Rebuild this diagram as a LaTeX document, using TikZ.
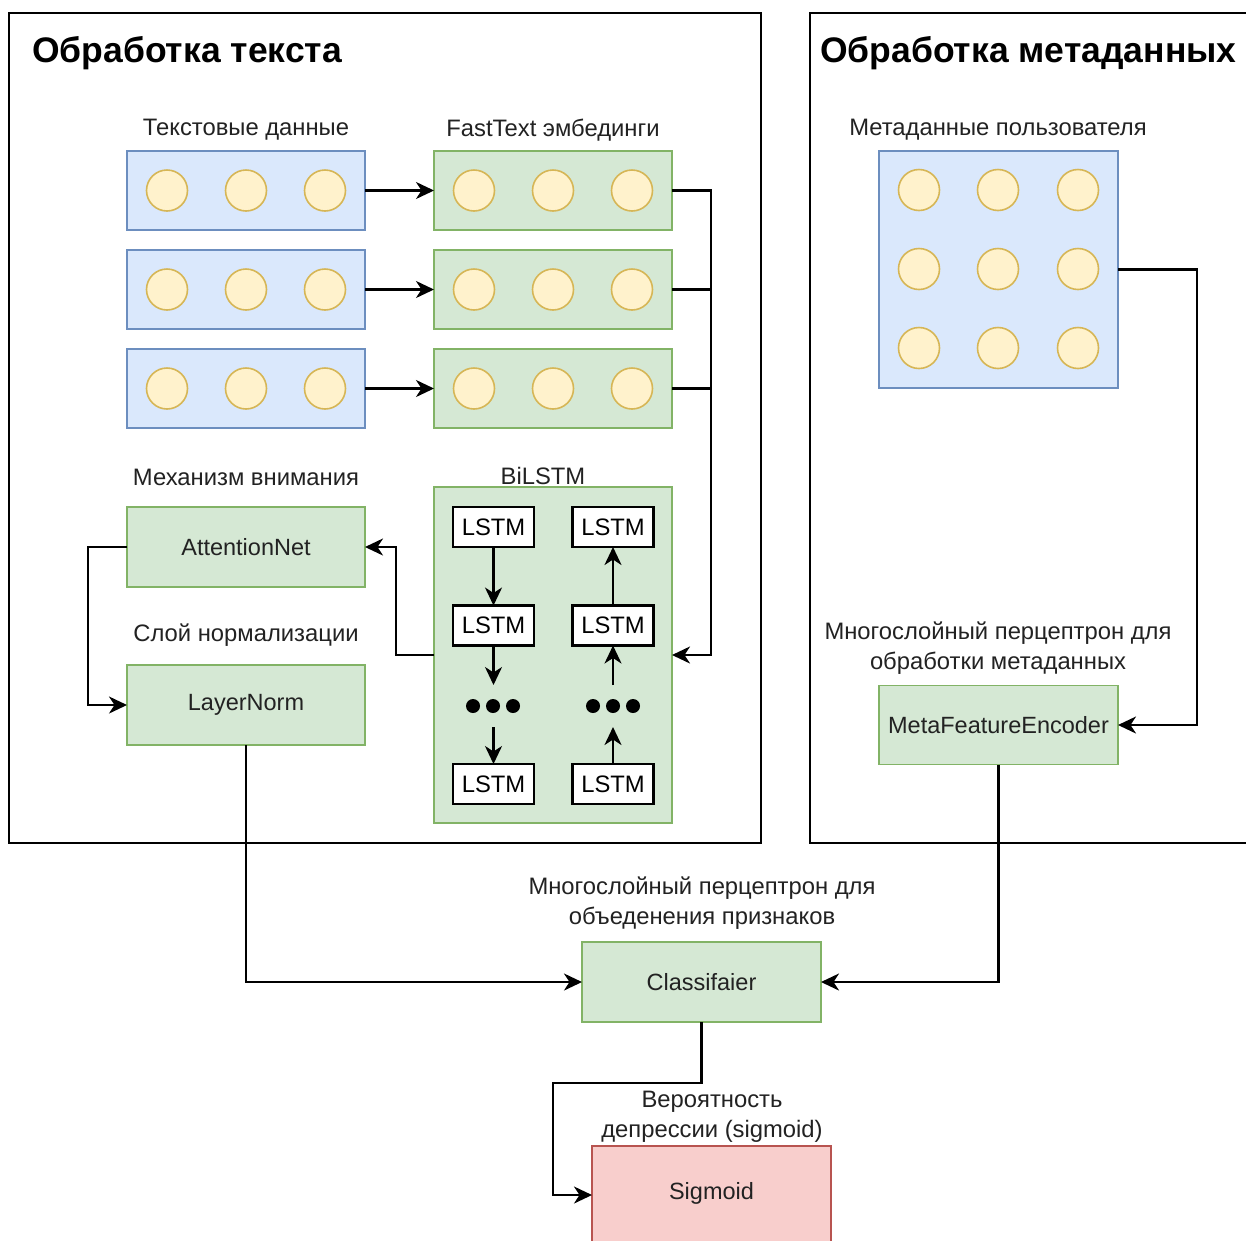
\documentclass[tikz,border=0pt]{standalone}
\usepackage{fontspec}
\setmainfont{Liberation Sans}
\usetikzlibrary{arrows.meta}
\definecolor{bfill}{HTML}{DAE8FC}
\definecolor{bline}{HTML}{6C8EBF}
\definecolor{gfill}{HTML}{D5E8D4}
\definecolor{gline}{HTML}{82B366}
\definecolor{cfill}{HTML}{FFF2CC}
\definecolor{cline}{HTML}{D6B656}
\definecolor{rfill}{HTML}{F8CECC}
\definecolor{rline}{HTML}{B85450}
\definecolor{txt}{HTML}{222222}
\begin{document}
\begin{tikzpicture}[x=1pt,y=-1pt,
  lbl/.style={text=txt,font=\fontsize{23.8}{30}\selectfont,align=center,inner sep=0pt},
  ttl/.style={text=black,font=\bfseries\fontsize{35.5}{40}\selectfont,inner sep=0pt,anchor=west},
  container/.style={draw=black,line width=1.8pt},
  bluebox/.style={draw=bline,fill=bfill,line width=1.6pt,inner sep=0pt,outer sep=0pt},
  greenbox/.style={draw=gline,fill=gfill,line width=1.6pt,inner sep=0pt,outer sep=0pt,text=txt,font=\fontsize{23.5}{28}\selectfont},
  redbox/.style={draw=rline,fill=rfill,line width=1.6pt,inner sep=0pt,outer sep=0pt,text=txt,font=\fontsize{23.5}{28}\selectfont},
  circ/.style={circle,draw=cline,fill=cfill,line width=1.6pt,minimum size=41pt,inner sep=0pt},
  lstm/.style={draw=black,fill=white,line width=2.2pt,minimum width=81pt,minimum height=40pt,inner sep=0pt,outer sep=0pt,text=black,font=\fontsize{23.8}{28}\selectfont},
  dot/.style={circle,fill=black,minimum size=14pt,inner sep=0pt},
  dotsbox/.style={minimum width=54pt,minimum height=42pt,inner sep=0pt,outer sep=0pt},
  arr/.style={draw=black,line width=2.2pt,-{Stealth[length=18pt,width=17pt,inset=5.5pt]}},
  wire/.style={draw=black,line width=2.2pt}
]
\useasboundingbox (0,0) rectangle (1246,1240);
\clip (0,0) rectangle (1246,1240);
\fill[white] (0,0) rectangle (1246,1240);

% containers
\draw[container] (9,13) rectangle (761,843);
\draw[container] (810,13) rectangle (1270,843);
\node[ttl] (ttext) at (32,53) {Обработка текста};
\node[ttl] (tmeta) at (820,53) {Обработка метаданных};

% labels
\node[lbl] (ltext) at (246,130) {Текстовые данные};
\node[lbl] (lfast) at (553,130) {FastText эмбединги};
\node[lbl] (lmeta) at (998,130) {Метаданные пользователя};
\node[lbl] (lattn) at (246,477) {Механизм внимания};
\node[lbl] (lbil) at (543,476) {BiLSTM};
\node[lbl] (lnorm) at (246,635) {Слой нормализации};
\node[lbl] (lmfe) at (998,648) {Многослойный перцептрон для\\обработки метаданных};
\node[lbl] (lcls) at (702,903) {Многослойный перцептрон для\\объеденения признаков};
\node[lbl] (lsig) at (712,1117) {Вероятность\\депрессии (sigmoid)};

% text rows and embedding rows
\foreach \i/\y in {1/190.5,2/289.5,3/388.5}{
  \node[bluebox,minimum width=238pt,minimum height=79pt] (t\i) at (246,\y) {};
  \node[greenbox,minimum width=238pt,minimum height=79pt] (e\i) at (553,\y) {};
  \node[circ] (t\i a) at (167,\y) {};
  \node[circ] (t\i b) at (246,\y) {};
  \node[circ] (t\i c) at (325,\y) {};
  \node[circ] (e\i a) at (474,\y) {};
  \node[circ] (e\i b) at (553,\y) {};
  \node[circ] (e\i c) at (632,\y) {};
  \draw[arr] (t\i.east) -- (e\i.west);
}

% metadata
\node[bluebox,minimum width=239pt,minimum height=237pt] (meta) at (998.5,269.5) {};
\foreach \j/\y in {1/190,2/269,3/348}{
  \node[circ] (m\j a) at (919,\y) {};
  \node[circ] (m\j b) at (998,\y) {};
  \node[circ] (m\j c) at (1078,\y) {};
}

% BiLSTM
\node[greenbox,minimum width=238pt,minimum height=336pt] (bil) at (553,655) {};
\node[lstm] (l1) at (493.5,527) {LSTM};
\node[lstm] (l2) at (493.5,625.5) {LSTM};
\node[lstm] (l4) at (493.5,784) {LSTM};
\node[lstm] (r1) at (613,527) {LSTM};
\node[lstm] (r2) at (613,625.5) {LSTM};
\node[lstm] (r4) at (613,784) {LSTM};
\node[dotsbox] (dl) at (493.5,706) {};
\node[dotsbox] (dr) at (613,706) {};
\node[dot] (dl1) at (473,706) {};
\node[dot] (dl2) at (493,706) {};
\node[dot] (dl3) at (513,706) {};
\node[dot] (dr1) at (593,706) {};
\node[dot] (dr2) at (613,706) {};
\node[dot] (dr3) at (633,706) {};
\draw[arr] (l1.south) -- (l2.north);
\draw[arr] (l2.south) -- (dl.north);
\draw[arr] (dl.south) -- (l4.north);
\draw[arr] (r4.north) -- (dr.south);
\draw[arr] (dr.north) -- (r2.south);
\draw[arr] (r2.north) -- (r1.south);

% attention / layernorm
\node[greenbox,minimum width=238pt,minimum height=80pt] (att) at (246,547) {AttentionNet};
\node[greenbox,minimum width=238pt,minimum height=80pt] (ln) at (246,705) {LayerNorm};

% meta feature encoder, classifier, sigmoid
\node[greenbox,minimum width=239pt,minimum height=79pt] (mfe) at (998.5,725) {MetaFeatureEncoder};
\node[greenbox,minimum width=239pt,minimum height=80pt] (cls) at (701.5,982) {Classifaier};
\node[redbox,minimum width=239pt,minimum height=98pt] (sig) at (711.5,1195) {};
\node[text=txt,font=\fontsize{23.5}{28}\selectfont,inner sep=0pt] (sigt) at (711.5,1193) {Sigmoid};

% connectors
\coordinate (bus) at (711,655);
\draw[arr] (e1.east) -| (bus) -- (bil.east);
\draw[wire] (e2.east) -- (e2.east -| bus);
\draw[wire] (e3.east) -- (e3.east -| bus);
\coordinate (lx) at (396,655);
\draw[arr] (bil.west) -- (lx) |- (att.east);
\coordinate (llx) at (88,547);
\draw[arr] (att.west) -- (llx) |- (ln.west);
\draw[arr] (ln.south) |- (cls.west);
\coordinate (mx) at (1197,269.5);
\draw[arr] (meta.east) -- (mx) |- (mfe.east);
\draw[arr] (mfe.south) |- (cls.east);
\coordinate (s1) at (553,1083);
\draw[arr] (cls.south) |- (s1) |- (sig.west);
\end{tikzpicture}
\end{document}
